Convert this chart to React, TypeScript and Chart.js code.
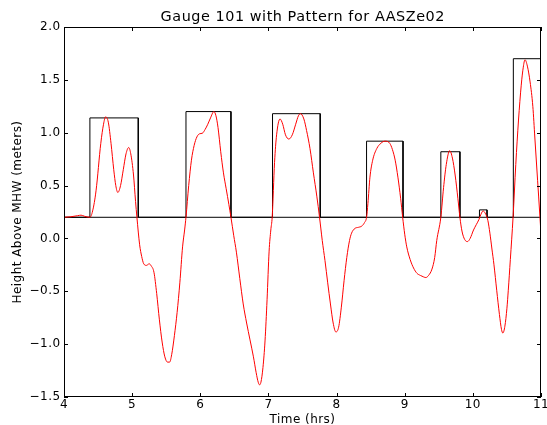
import React, { useEffect, useRef } from "react";
import { Chart, registerables } from "chart.js";

Chart.register(...registerables);

const chartTitle = "Gauge 101 with Pattern for AASZe02";
const xAxisLabel = "Time (hrs)";
const yAxisLabel = "Height Above MHW (meters)";

const xTicks = [4, 5, 6, 7, 8, 9, 10, 11];
const yTicks = [-1.5, -1.0, -0.5, 0, 0.5, 1.0, 1.5, 2.0];

const tideTimes = [
  4.0, 4.1, 4.2, 4.25, 4.3, 4.38, 4.42, 4.47, 4.54, 4.58, 4.61, 4.65, 4.69, 4.73, 4.76, 4.79, 4.83, 4.87, 4.91, 4.95,
  4.98, 5.02, 5.05, 5.07, 5.11, 5.14, 5.17, 5.21, 5.25, 5.28, 5.32, 5.36, 5.4, 5.44, 5.48, 5.52, 5.55, 5.58, 5.62, 5.66,
  5.7, 5.74, 5.77, 5.79, 5.83, 5.87, 5.91, 5.95, 5.99, 6.03, 6.07, 6.11, 6.15, 6.2, 6.23, 6.26, 6.3, 6.34, 6.38, 6.42,
  6.45, 6.49, 6.53, 6.58, 6.63, 6.68, 6.73, 6.78, 6.82, 6.85, 6.87, 6.89, 6.92, 6.95, 6.98, 7.01, 7.035, 7.055, 7.09, 7.12,
  7.17, 7.21, 7.25, 7.3, 7.35, 7.4, 7.44, 7.47, 7.52, 7.56, 7.61, 7.66, 7.71, 7.75, 7.79, 7.83, 7.87, 7.91, 7.95, 7.99,
  8.03, 8.07, 8.11, 8.15, 8.19, 8.22, 8.27, 8.32, 8.37, 8.41, 8.44, 8.46, 8.49, 8.53, 8.59, 8.65, 8.71, 8.78, 8.82, 8.86,
  8.9, 8.94, 8.97, 9.0, 9.03, 9.08, 9.13, 9.18, 9.23, 9.28, 9.31, 9.35, 9.4, 9.44, 9.47, 9.53, 9.57, 9.61, 9.66, 9.7,
  9.74, 9.78, 9.81, 9.84, 9.88, 9.92, 9.96, 10.01, 10.05, 10.09, 10.12, 10.15, 10.18, 10.22, 10.25, 10.28, 10.31, 10.35, 10.39, 10.42,
  10.44, 10.47, 10.5, 10.52, 10.55, 10.59, 10.63, 10.67, 10.71, 10.74, 10.765, 10.8, 10.84, 10.88, 10.91, 10.95, 10.98, 11.0,
];
const tideLevels = [
  0.2, 0.205, 0.215, 0.22, 0.21, 0.2, 0.26, 0.45, 0.9, 1.08, 1.15, 1.1, 0.9, 0.65, 0.5, 0.435, 0.5, 0.65, 0.8, 0.86,
  0.8, 0.6, 0.35, 0.2, -0.06, -0.17, -0.24, -0.255, -0.24, -0.26, -0.32, -0.52, -0.77, -0.98, -1.12, -1.17, -1.17, -1.1, -0.92, -0.7,
  -0.42, -0.08, 0.08, 0.2, 0.5, 0.74, 0.88, 0.96, 0.99, 0.995, 1.03, 1.08, 1.14, 1.2, 1.16, 1.05, 0.82, 0.62, 0.47, 0.32,
  0.2, 0.03, -0.13, -0.38, -0.62, -0.8, -0.96, -1.12, -1.27, -1.36, -1.385, -1.36, -1.22, -0.97, -0.58, -0.12, 0.08, 0.2, 0.72, 0.98,
  1.13, 1.08, 0.98, 0.94, 0.98, 1.08, 1.16, 1.18, 1.13, 1.02, 0.85, 0.62, 0.4, 0.2, -0.02, -0.21, -0.42, -0.62, -0.8, -0.885,
  -0.84, -0.65, -0.4, -0.18, -0.02, 0.05, 0.095, 0.105, 0.117, 0.15, 0.2, 0.33, 0.58, 0.74, 0.85, 0.9, 0.92, 0.9, 0.84, 0.74,
  0.58, 0.38, 0.2, 0.04, -0.08, -0.2, -0.28, -0.33, -0.35, -0.365, -0.37, -0.35, -0.29, -0.18, -0.02, 0.2, 0.48, 0.7, 0.83, 0.76,
  0.6, 0.38, 0.2, 0.07, -0.01, -0.03, 0.0, 0.08, 0.13, 0.18, 0.23, 0.26, 0.24, 0.17, 0.05, -0.1, -0.25, -0.49, -0.72, -0.86,
  -0.895, -0.83, -0.66, -0.49, -0.2, 0.2, 0.7, 1.12, 1.45, 1.62, 1.69, 1.63, 1.48, 1.25, 0.95, 0.55, 0.25, 0.04,
];

const patternTimes = [
  4, 4.38, 4.38, 5.09, 5.09, 5.79, 5.79, 6.45, 6.45, 7.06, 7.06, 7.76, 7.76, 8.44, 8.44, 8.975, 8.975,
  9.53, 9.53, 9.81, 9.81, 10.097, 10.097, 10.208, 10.208, 10.594, 10.594, 10.993, 10.993, 11,
];
const patternLevels = [
  0.2, 0.2, 1.14, 1.14, 0.2, 0.2, 1.2, 1.2, 0.2, 0.2, 1.18, 1.18, 0.2, 0.2, 0.92, 0.92, 0.2,
  0.2, 0.82, 0.82, 0.2, 0.2, 0.27, 0.27, 0.2, 0.2, 1.7, 1.7, 0.2, 0.2,
];
const baselineTimes = [4, 11];
const baselineLevels = [0.2, 0.2];

const FONT = "'DejaVu Sans', sans-serif";

const fmtY = (v: number) => Number(v).toFixed(1).replace("-", "\u2212");

const spacingPlugin = {
  id: "mplSpacing",
  beforeLayout(chart: any) {
    chart.ctx.letterSpacing = "0.45px";
  },
  beforeDraw(chart: any) {
    chart.ctx.letterSpacing = "0.45px";
  },
};

const titlePlugin = {
  id: "mplTitle",
  afterDraw(chart: any) {
    const { ctx, chartArea } = chart;
    ctx.save();
    ctx.letterSpacing = "0.55px";
    ctx.font = `normal 14.4px ${FONT}`;
    ctx.fillStyle = "#000";
    ctx.textAlign = "center";
    ctx.textBaseline = "alphabetic";
    ctx.fillText(chartTitle, (chartArea.left + chartArea.right) / 2 + 0.3, 21);
    ctx.restore();
  },
};

const framePlugin = {
  id: "mplFrame",
  afterDatasetsDraw(chart: any) {
    const { ctx, chartArea, scales } = chart;
    const { left, right, top, bottom } = chartArea;
    const x = scales.x;
    const y = scales.y;
    ctx.save();
    ctx.strokeStyle = "#000";
    ctx.lineWidth = 1;
    ctx.beginPath();
    for (const t of xTicks) {
      const px = Math.round(x.getPixelForValue(t)) + 0.5;
      ctx.moveTo(px, bottom);
      ctx.lineTo(px, bottom - 4);
      ctx.moveTo(px, top);
      ctx.lineTo(px, top + 4);
    }
    for (const t of yTicks) {
      const py = Math.round(y.getPixelForValue(t)) + 0.5;
      ctx.moveTo(left, py);
      ctx.lineTo(left + 4, py);
      ctx.moveTo(right, py);
      ctx.lineTo(right - 4, py);
    }
    ctx.stroke();
    ctx.strokeRect(left + 0.5, top + 0.5, right - left - 1, bottom - top - 1);
    ctx.restore();
  },
};

export default function App() {
  const ref = useRef<HTMLCanvasElement | null>(null);

  useEffect(() => {
    if (!ref.current) return;
    const tide = tideTimes.map((t, i) => ({ x: t, y: tideLevels[i] }));
    const pattern = patternTimes.map((t, i) => ({ x: t, y: patternLevels[i] }));
    const baseline = baselineTimes.map((t, i) => ({ x: t, y: baselineLevels[i] }));

    const chart = new Chart(ref.current, {
      type: "line",
      data: {
        datasets: [
          {
            label: "Gauge",
            data: tide,
            borderColor: "#ff0000",
            borderWidth: 1,
            pointRadius: 0,
            fill: false,
            cubicInterpolationMode: "monotone",
          },
          {
            label: "Pattern",
            data: pattern,
            borderColor: "#000000",
            borderWidth: 1,
            pointRadius: 0,
            fill: false,
            tension: 0,
          },
          {
            label: "Baseline",
            data: baseline,
            borderColor: "#000000",
            borderWidth: 1,
            pointRadius: 0,
            fill: false,
            tension: 0,
          },
        ],
      },
      options: {
        responsive: false,
        animation: false,
        devicePixelRatio: 1,
        layout: { padding: { left: 0, right: 6, top: 27, bottom: 0 } },
        plugins: {
          legend: { display: false },
          tooltip: { enabled: false },
          title: { display: false },
        },
        scales: {
          x: {
            type: "linear",
            min: 4,
            max: 11,
            grid: { display: false, drawTicks: false },
            border: { display: false },
            ticks: {
              stepSize: 1,
              color: "#000",
              padding: 1,
              font: { family: FONT, size: 12 },
              callback: (v: any) => String(v),
            },
            title: {
              display: true,
              text: xAxisLabel,
              color: "#000",
              font: { family: FONT, size: 12, lineHeight: 0.85 },
              padding: { top: 0, bottom: 0 },
            },
            afterFit: (s: any) => {
              s.height = 28;
              s.paddingLeft = 0;
              s.paddingRight = 0;
            },
          },
          y: {
            type: "linear",
            min: -1.5,
            max: 2.0,
            grid: { display: false, drawTicks: false },
            border: { display: false },
            ticks: {
              stepSize: 0.5,
              color: "#000",
              padding: 3.5,
              font: { family: FONT, size: 12 },
              callback: (v: any) => fmtY(v),
            },
            title: {
              display: true,
              text: yAxisLabel,
              color: "#000",
              font: { family: FONT, size: 12, lineHeight: 1.2 },
              padding: { top: 10.5, bottom: 0 },
            },
            afterFit: (s: any) => {
              s.width = 64;
              s.paddingTop = 0;
              s.paddingBottom = 0;
            },
          },
        },
      },
      plugins: [spacingPlugin, framePlugin, titlePlugin],
    });
    return () => chart.destroy();
  }, []);

  return (
    <div style={{ position: "fixed", left: 0, top: 0, width: 547, height: 425, background: "#fff" }}>
      <canvas ref={ref} width={547} height={425} style={{ width: 547, height: 425, display: "block" }} />
    </div>
  );
}
